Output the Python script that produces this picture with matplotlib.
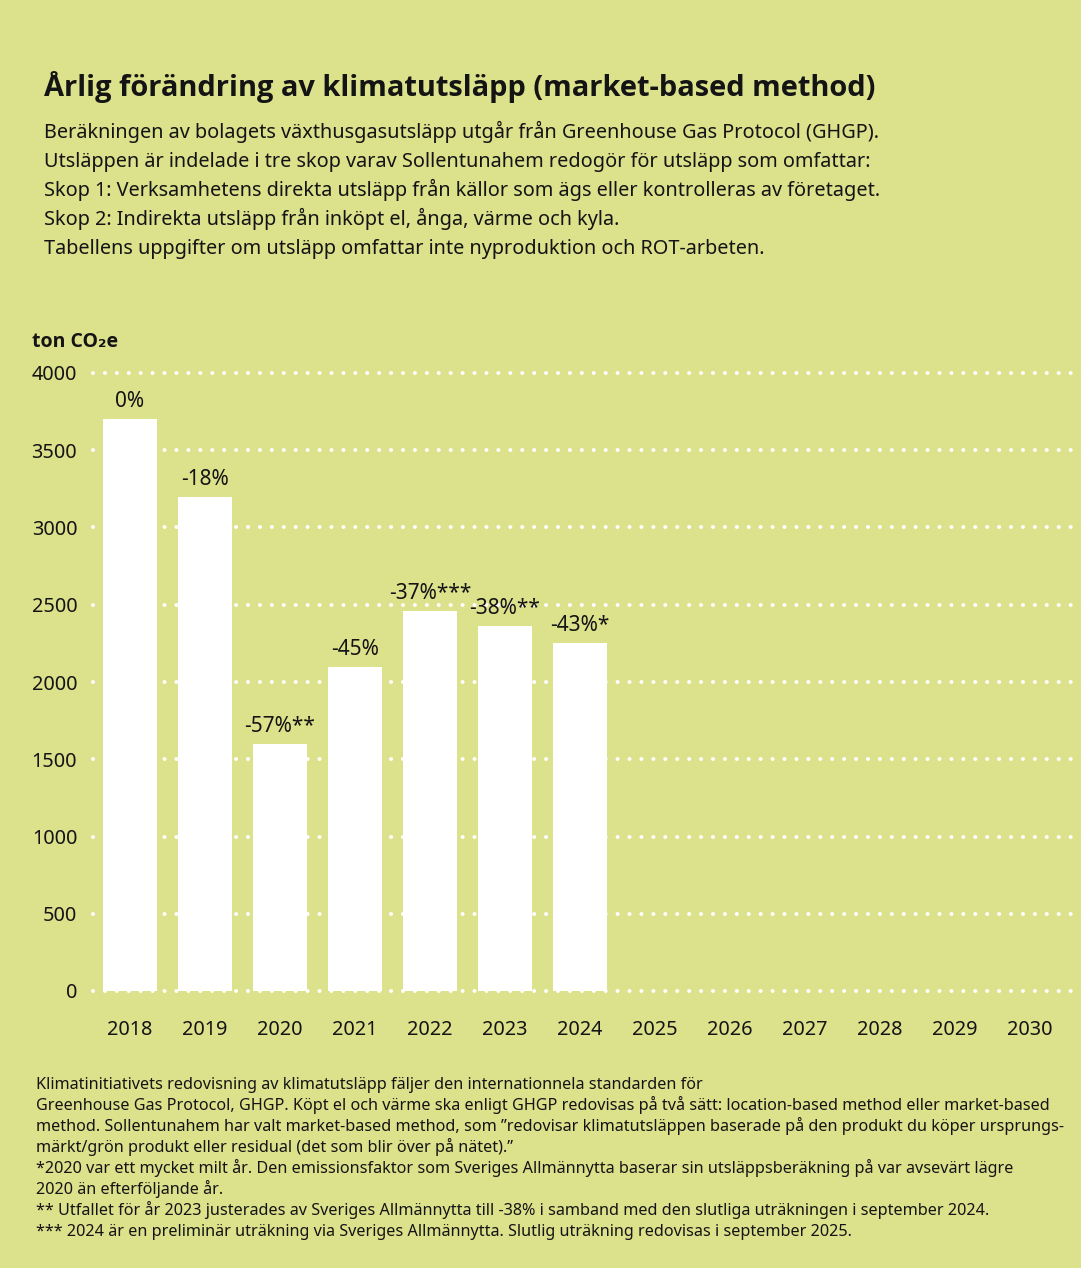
import matplotlib
matplotlib.use('Agg')
import matplotlib.pyplot as plt

# data
years = ['2018', '2019', '2020', '2021', '2022', '2023', '2024',
         '2025', '2026', '2027', '2028', '2029', '2030']
emissions = [3700, 3200, 1600, 2100, 2460, 2360, 2250]
labels = ['0%', '-18%', '-57%**', '-45%', '-37%***', '-38%**', '-43%*']
yticks = [0, 500, 1000, 1500, 2000, 2500, 3000, 3500, 4000]

title = "Årlig förändring av klimatutsläpp (market-based method)"
intro = [
    "Beräkningen av bolagets växthusgasutsläpp utgår från Greenhouse Gas Protocol (GHGP).",
    "Utsläppen är indelade i tre skop varav Sollentunahem redogör för utsläpp som omfattar:",
    "Skop 1: Verksamhetens direkta utsläpp från källor som ägs eller kontrolleras av företaget.",
    "Skop 2: Indirekta utsläpp från inköpt el, ånga, värme och kyla.",
    "Tabellens uppgifter om utsläpp omfattar inte nyproduktion och ROT-arbeten.",
]
notes = [
    "Klimatinitiativets redovisning av klimatutsläpp fäljer den internationnela standarden för",
    "Greenhouse Gas Protocol, GHGP. Köpt el och värme ska enligt GHGP redovisas på två sätt: location-based method eller market-based",
    "method. Sollentunahem har valt market-based method, som \u201dredovisar klimatutsläppen baserade på den produkt du köper ursprungs-",
    "märkt/grön produkt eller residual (det som blir över på nätet).\u201d",
    "*2020 var ett mycket milt år. Den emissionsfaktor som Sveriges Allmännytta baserar sin utsläppsberäkning på var avsevärt lägre",
    "2020 än efterföljande år.",
    "** Utfallet för år 2023 justerades av Sveriges Allmännytta till -38% i samband med den slutliga uträkningen i september 2024.",
    "*** 2024 är en preliminär uträkning via Sveriges Allmännytta. Slutlig uträkning redovisas i september 2025.",
]

BG = '#dce18c'
INK = '#141414'
W, H = 1081, 1268
plt.rcParams['font.family'] = ['Noto Sans', 'DejaVu Sans']
BOLD = ['Open Sans', 'DejaVu Sans']

fig = plt.figure(figsize=(W / 100, H / 100), dpi=100)
fig.set_facecolor(BG)


def fy(py):
    return 1 - py / H


ax = fig.add_axes([92.5 / W, fy(991), (1075 - 92.5) / W, (991 - 373) / H])
ax.set_facecolor(BG)
for s in ax.spines.values():
    s.set_visible(False)

# dotted white gridlines
for v in yticks:
    ax.axhline(v, color='white', lw=2.9, linestyle=(0, (0.01, 2.95)),
               dash_capstyle='round', zorder=1, clip_on=False)

x = list(range(len(emissions)))
ax.bar(x, emissions, width=0.73, color='white', zorder=2)
for xi, v, lab in zip(x, emissions, labels):
    ax.text(xi, v + 45, lab, ha='center', va='bottom', fontsize=15, color=INK)

ax.set_xlim(-0.5, 12.6)
ax.set_ylim(0, 4000)
ax.set_xticks(range(len(years)))
ax.set_xticklabels(years)
ax.set_yticks(yticks)
ax.tick_params(axis='both', length=0, labelsize=14.3, labelcolor=INK)
ax.tick_params(axis='x', pad=21)
ax.tick_params(axis='y', pad=11)

fig.text(44 / W, fy(96), title, fontsize=20.85, fontweight='bold', family=BOLD,
         color=INK, ha='left', va='baseline')
for i, line in enumerate(intro):
    fig.text(44 / W, fy(138 + 29 * i), line, fontsize=14.3, color=INK,
             ha='left', va='baseline')

fig.text(32 / W, fy(347), "ton CO\u2082e", fontsize=14, fontweight='bold',
         family=BOLD, color=INK, ha='left', va='baseline')

for i, line in enumerate(notes):
    fig.text(36 / W, fy(1089 + 21 * i), line, fontsize=11.65, color=INK,
             ha='left', va='baseline')

fig.savefig('out.png', dpi=100, facecolor=BG)
